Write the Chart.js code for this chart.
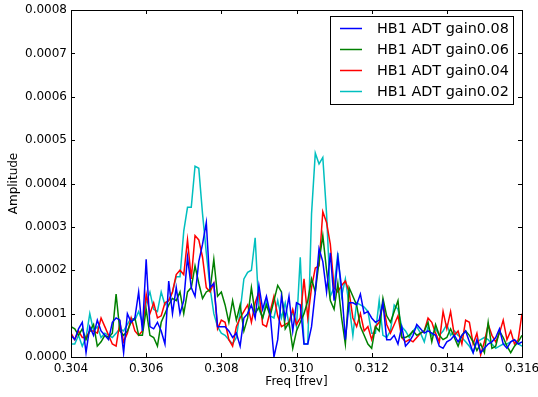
<!DOCTYPE html>
<html>
<head>
<meta charset="utf-8">
<script src="https://cdn.jsdelivr.net/npm/chart.js@4"></script>
<style>
  html, body { margin: 0; padding: 0; background: #fff; }
  #wrap { width: 538px; height: 397px; }
</style>
</head>
<body>
<div id="wrap"><canvas id="spectrum"></canvas></div>
<script>
// frequency bins [frev]
const freq = [
  0.3040,0.3041,0.3042,0.3043,0.3044,0.3045,0.3046,0.3047,0.3048,0.3049,
  0.3050,0.3051,0.3052,0.3053,0.3054,0.3055,0.3056,0.3057,0.3058,0.3059,
  0.3060,0.3061,0.3062,0.3063,0.3064,0.3065,0.3066,0.3067,0.3068,0.3069,
  0.3070,0.3071,0.3072,0.3073,0.3074,0.3075,0.3076,0.3077,0.3078,0.3079,
  0.3080,0.3081,0.3082,0.3083,0.3084,0.3085,0.3086,0.3087,0.3088,0.3089,
  0.3090,0.3091,0.3092,0.3093,0.3094,0.3095,0.3096,0.3097,0.3098,0.3099,
  0.3100,0.3101,0.3102,0.3103,0.3104,0.3105,0.3106,0.3107,0.3108,0.3109,
  0.3110,0.3111,0.3112,0.3113,0.3114,0.3115,0.3116,0.3117,0.3118,0.3119,
  0.3120,0.3121,0.3122,0.3123,0.3124,0.3125,0.3126,0.3127,0.3128,0.3129,
  0.3130,0.3131,0.3132,0.3133,0.3134,0.3135,0.3136,0.3137,0.3138,0.3139,
  0.3140,0.3141,0.3142,0.3143,0.3144,0.3145,0.3146,0.3147,0.3148,0.3149,
  0.3150,0.3151,0.3152,0.3153,0.3154,0.3155,0.3156,0.3157,0.3158,0.3159,
  0.3160
];

// amplitudes, in units of 1e-4
const gain008 = [
  0.5,0.4,0.65,0.8,0.1,0.7,0.5,0.85,0.6,0.5,0.4,0.8,0.9,0.85,0.1,1.0,0.8,0.9,1.5,0.6,2.25,
  0.7,0.65,0.8,0.6,0.3,1.75,1.0,1.6,1.0,1.3,2.3,1.6,1.4,2.2,2.6,3.1,1.6,1.7,0.7,0.7,
  0.7,0.6,0.45,0.55,0.25,0.9,1.0,1.2,0.9,1.65,1.1,1.4,1.0,0.0,0.4,1.4,0.9,1.4,0.6,1.25,
  1.2,0.3,0.3,0.7,1.5,2.5,2.2,1.5,2.4,1.3,2.3,1.6,0.4,1.25,1.25,1.2,1.45,1.0,1.05,0.9,
  0.8,0.85,1.25,0.4,0.4,0.5,0.3,0.7,0.25,0.35,0.5,0.75,0.65,0.55,0.6,0.55,0.5,0.25,0.2,0.35,
  0.4,0.5,0.35,0.5,0.6,0.35,0.1,0.4,0.1,0.2,0.3,0.35,0.45,0.65,0.3,0.2,0.35,0.4,0.3,0.35
];
const gain006 = [
  0.7,0.65,0.5,0.65,0.4,0.6,0.75,0.25,0.35,0.5,0.45,0.55,1.45,0.6,0.5,0.6,0.8,0.9,0.5,0.5,1.1,
  0.5,0.45,0.25,0.8,1.0,1.2,1.35,1.3,1.5,1.0,1.5,1.6,2.1,1.7,1.35,1.5,1.55,2.25,1.4,1.5,
  1.2,0.8,1.3,0.85,1.2,0.6,0.9,1.6,1.0,1.15,0.9,1.2,0.95,1.3,1.65,1.5,0.65,0.8,0.2,0.6,
  0.8,1.0,1.3,1.8,1.5,2.2,2.8,2.0,1.3,1.1,1.7,0.9,0.3,1.6,1.4,1.2,0.7,0.5,0.3,0.2,
  0.7,0.6,1.35,0.95,0.8,1.05,1.3,0.45,0.45,0.5,0.6,0.5,0.55,0.6,0.8,0.35,0.75,0.5,0.4,0.45,
  0.65,0.45,0.25,0.5,0.6,0.5,0.35,0.15,0.3,0.1,0.8,0.2,0.25,0.6,0.45,0.25,0.1,0.25,0.35,0.5
];
const gain004 = [
  0.55,0.4,0.6,0.45,0.45,0.6,0.6,0.55,0.9,0.7,0.5,0.3,0.25,0.8,0.35,0.55,0.9,0.6,0.5,0.6,1.45,
  1.0,1.25,0.9,0.95,1.25,1.3,1.5,1.9,2.0,1.9,2.7,1.8,2.8,2.7,2.3,1.6,1.5,1.7,0.65,0.85,
  0.8,0.4,0.25,0.7,0.9,1.05,1.2,0.8,1.25,1.5,0.75,0.7,1.05,1.4,0.95,0.7,0.75,0.8,1.1,0.75,
  0.9,1.8,0.9,1.6,2.05,2.1,3.35,3.1,2.6,1.6,1.5,1.65,1.75,1.5,0.9,0.7,1.0,0.6,0.7,0.4,
  0.7,0.8,1.25,0.75,0.55,0.75,0.95,0.45,0.35,0.4,0.35,0.45,0.55,0.6,0.9,0.8,0.55,0.35,1.05,0.65,
  1.05,0.5,0.6,0.3,0.85,0.8,0.3,0.55,0.05,0.35,0.75,0.5,0.35,0.55,0.85,0.4,0.6,0.3,0.4,1.0
];
const gain002 = [
  0.3,0.3,0.5,0.25,0.45,1.0,0.6,0.7,0.45,0.55,0.5,0.45,0.55,0.65,0.6,0.75,0.9,0.85,1.05,0.8,1.25,
  1.5,1.1,1.05,1.5,1.2,1.3,1.5,1.85,1.85,2.9,3.45,3.45,4.4,4.35,3.3,2.4,1.6,1.0,0.7,0.55,
  0.5,0.4,0.3,0.45,1.05,1.8,1.95,2.0,2.75,1.1,0.9,1.3,0.95,0.9,1.3,0.9,1.25,0.75,1.05,0.7,
  2.3,0.3,0.3,3.3,4.7,4.45,4.6,3.3,1.4,1.6,2.4,1.4,1.8,1.2,0.5,1.25,1.2,1.15,1.05,0.55,
  0.55,1.3,0.5,0.45,0.6,1.2,1.1,0.7,0.6,0.45,0.6,0.7,0.55,0.35,0.7,0.5,0.65,0.5,0.6,0.75,
  0.5,0.6,0.5,0.45,0.35,0.25,0.1,0.35,0.4,0.45,0.4,0.3,0.2,0.25,0.3,0.3,0.35,0.4,0.3,0.25
];

const labels = ['HB1 ADT gain0.08', 'HB1 ADT gain0.06', 'HB1 ADT gain0.04', 'HB1 ADT gain0.02'];
const colors = ['#0000ff', '#008000', '#ff0000', '#00bfbf'];
const xTicks = [0.304, 0.306, 0.308, 0.310, 0.312, 0.314, 0.316];

const FONT = 'DejaVu Sans';

function toPoints(vals) {
  return vals.map((v, i) => ({ x: freq[i], y: v * 1e-4 }));
}

// matplotlib style frame with inward ticks, plus the legend box
const frameTicks = {
  id: 'frameTicks',
  afterDatasetsDraw(chart) {
    const { ctx, chartArea: a, scales } = chart;
    ctx.save();
    ctx.strokeStyle = '#000';
    ctx.lineWidth = 1;
    const len = 4;
    ctx.beginPath();
    scales.x.ticks.forEach((t) => {
      const px = Math.round(scales.x.getPixelForValue(t.value)) + 0.5;
      ctx.moveTo(px, a.bottom); ctx.lineTo(px, a.bottom - len);
      ctx.moveTo(px, a.top); ctx.lineTo(px, a.top + len);
    });
    scales.y.ticks.forEach((t) => {
      const py = Math.round(scales.y.getPixelForValue(t.value)) + 0.5;
      ctx.moveTo(a.left, py); ctx.lineTo(a.left + len, py);
      ctx.moveTo(a.right, py); ctx.lineTo(a.right - len, py);
    });
    ctx.stroke();
    ctx.strokeRect(Math.round(a.left) + 0.5, Math.round(a.top) + 0.5,
      Math.round(a.right - a.left), Math.round(a.bottom - a.top));

    const bx = 330.5, by = 16.5, bw = 183, bh = 88;
    ctx.fillStyle = '#fff';
    ctx.fillRect(bx, by, bw, bh);
    ctx.strokeStyle = '#000';
    ctx.strokeRect(bx, by, bw, bh);
    ctx.font = '14.4px "' + FONT + '"';
    ctx.textBaseline = 'middle';
    ctx.textAlign = 'left';
    chart.data.datasets.forEach((ds, i) => {
      const y = 28.5 + i * 21;
      ctx.strokeStyle = ds.borderColor;
      ctx.lineWidth = 1.5;
      ctx.beginPath();
      ctx.moveTo(340, y); ctx.lineTo(362, y);
      ctx.stroke();
      ctx.fillStyle = '#000';
      ctx.fillText(ds.label, 377, y + 1);
    });
    ctx.restore();
  }
};

const series = [gain008, gain006, gain004, gain002];

new Chart(document.getElementById('spectrum'), {
  type: 'line',
  data: {
    datasets: series.map((s, i) => ({
      label: labels[i],
      data: toPoints(s),
      borderColor: colors[i],
      borderWidth: 1.5,
      pointRadius: 0,
      tension: 0,
      fill: false
    }))
  },
  options: {
    responsive: true,
    maintainAspectRatio: false,
    animation: false,
    layout: { padding: { top: 10, right: 16, left: 0, bottom: 0 } },
    plugins: {
      legend: { display: false },
      tooltip: { enabled: false }
    },
    scales: {
      x: {
        type: 'linear',
        min: 0.304,
        max: 0.316,
        afterBuildTicks(scale) {
          scale.ticks = xTicks.map((v) => ({ value: v }));
        },
        afterFit(scale) {
          scale.height = 40;
          scale.paddingLeft = 0;
          scale.paddingRight = 0;
        },
        grid: { display: false, drawTicks: false },
        border: { display: false },
        ticks: {
          padding: 5,
          maxRotation: 0,
          autoSkip: false,
          color: '#000',
          font: { family: FONT, size: 12 },
          callback: (v) => v.toFixed(3)
        },
        title: {
          display: true,
          text: 'Freq [frev]',
          color: '#000',
          font: { family: FONT, size: 12 },
          padding: { top: 0, bottom: 8 }
        }
      },
      y: {
        min: 0,
        max: 0.0008,
        afterFit(scale) {
          scale.width = 71;
          scale.paddingTop = 0;
          scale.paddingBottom = 0;
        },
        grid: { display: false, drawTicks: false },
        border: { display: false },
        ticks: {
          stepSize: 0.0001,
          padding: 4,
          color: '#000',
          font: { family: FONT, size: 12 },
          callback: (v) => v.toFixed(4)
        },
        title: {
          display: true,
          text: 'Amplitude',
          color: '#000',
          font: { family: FONT, size: 12 },
          padding: { top: 7, bottom: 0 }
        }
      }
    }
  },
  plugins: [frameTicks]
});
</script>
</body>
</html>
